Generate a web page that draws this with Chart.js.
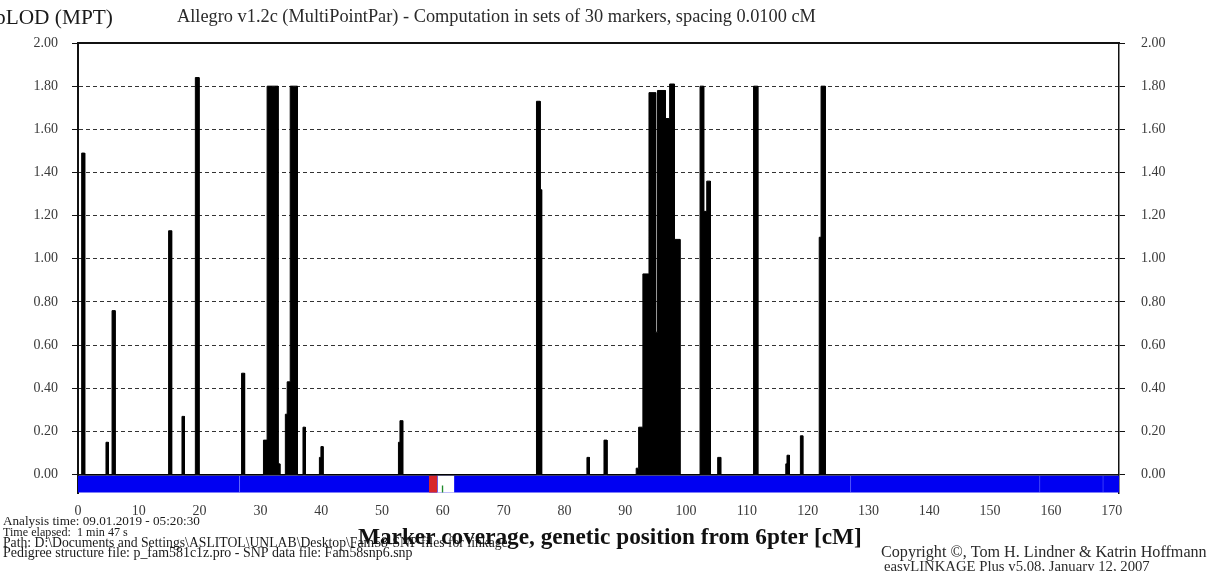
<!DOCTYPE html>
<html>
<head>
<meta charset="utf-8">
<title>pLOD (MPT)</title>
<script src="https://cdn.jsdelivr.net/npm/chart.js@4.4.0/dist/chart.umd.min.js"></script>
<style>
  html, body { margin: 0; padding: 0; background: #fff; }
</style>
</head>
<body>
<canvas id="lodChart" width="1210" height="571"></canvas>
<script>
// LOD profile plateaus: start cM, end cM, LOD
const peakStart = [0.6, 4.6, 5.6, 14.9, 17.1, 19.3, 26.9, 30.5, 31.1, 32.9, 34.1, 34.4, 34.9, 37.0, 39.7, 39.95,
    52.7, 52.95, 75.4, 76.0, 83.7, 86.5, 91.8, 92.2, 92.9, 93.9, 95.0, 95.3, 96.6, 97.3, 98.1,
    102.3, 102.9, 103.4, 105.2, 111.1, 116.4, 116.6, 118.8, 121.9, 122.2];
const peakEnd = [1.1, 5.0, 6.1, 15.4, 17.5, 19.9, 27.4, 31.1, 32.9, 33.2, 34.4, 34.9, 36.1, 37.4, 39.95, 40.3,
    52.95, 53.4, 76.0, 76.25, 84.1, 87.0, 92.2, 92.9, 93.9, 95.0, 95.3, 96.6, 97.3, 98.1, 99.0,
    102.9, 103.4, 104.0, 105.7, 111.8, 116.6, 117.0, 119.2, 122.2, 122.9];
const peakLod = [1.49, 0.15, 0.76, 1.13, 0.27, 1.84, 0.47, 0.16, 1.80, 0.05, 0.28, 0.43, 1.80, 0.22, 0.08, 0.13,
    0.15, 0.25, 1.73, 1.32, 0.08, 0.16, 0.03, 0.22, 0.93, 1.77, 0.66, 1.78, 1.65, 1.81, 1.09,
    1.80, 1.22, 1.36, 0.08, 1.80, 0.05, 0.09, 0.18, 1.10, 1.80];

// marker coverage strip below the axis
const coverFrom = [0, 57.7, 59.1, 59.8, 26.5, 127.0, 158.1, 168.5];
const coverTo = [172.0, 59.1, 61.9, 60.1, 26.65, 127.15, 158.25, 168.65];
const coverKind = ['typed', 'flagged', 'gap', 'marker', 'seam', 'seam', 'seam', 'seam'];

const yTicks = [0, 0.2, 0.4, 0.6, 0.8, 1.0, 1.2, 1.4, 1.6, 1.8, 2.0];
const xTicks = [0, 10, 20, 30, 40, 50, 60, 70, 80, 90, 100, 110, 120, 130, 140, 150, 160, 170];

const titleText = 'Allegro v1.2c (MultiPointPar) - Computation in sets of 30 markers, spacing 0.0100 cM';
const yAxisText = 'pLOD (MPT)';
const xAxisText = 'Marker coverage, genetic position from 6pter [cM]';
const infoLines = [
    'Analysis time: 09.01.2019 - 05:20:30',
    'Time elapsed:  1 min 47 s',
    'Path: D:\\Documents and Settings\\ASLITOL\\UNLAB\\Desktop\\Fam58-SNP files for linkage',
    'Pedigree structure file: p_fam581c1z.pro - SNP data file: Fam58snp6.snp'
];
const creditLines = [
    'Copyright \u00a9, Tom H. Lindner & Katrin Hoffmann',
    'easyLINKAGE Plus v5.08, January 12, 2007'
];

const Y_MIN = -0.085;
const BAND_TOP = -0.004;
const BAND_BOTTOM = -0.083;
const SERIF = '"Liberation Serif", "DejaVu Serif", serif';

const kindColor = {
    typed: '#0000f2',
    flagged: '#d8262a',
    gap: '#ffffff',
    marker: '#1f8a2a',
    seam: '#8088ff'
};

// build a stepped outline from the plateaus
function buildProfile() {
    const pts = [];
    let lastEnd = null;
    peakStart.forEach((s, i) => {
        const e = peakEnd[i];
        const v = peakLod[i];
        if (lastEnd === null || s - lastEnd > 1e-6) {
            if (lastEnd !== null) pts.push({ x: lastEnd, y: 0 });
            pts.push({ x: s, y: 0 });
        }
        pts.push({ x: s, y: v }, { x: e, y: v });
        lastEnd = e;
    });
    pts.push({ x: lastEnd, y: 0 });
    return pts;
}

// strip pieces; the full blue run sits underneath the rest
const coverSets = coverFrom.map((from, i) => {
    const kind = coverKind[i];
    return {
        data: [{ x: from, y: BAND_BOTTOM }, { x: coverTo[i], y: BAND_BOTTOM }],
        fill: { value: kind === 'marker' ? -0.05 : BAND_TOP },
        backgroundColor: kindColor[kind],
        borderWidth: 0,
        pointRadius: 0,
        clip: false,
        order: kind === 'typed' ? 10 : (kind === 'marker' ? 5 : 8)
    };
});

// draws one line of text scaled to a given width
function fitText(ctx, text, x, y, width, weight, size) {
    ctx.font = `${weight} ${size}px ${SERIF}`;
    const w = ctx.measureText(text).width;
    ctx.font = `${weight} ${(size * width / w).toFixed(2)}px ${SERIF}`;
    ctx.fillText(text, x, y);
}

const pageText = {
    id: 'pageText',
    afterDraw(chart) {
        const ctx = chart.ctx;
        ctx.save();
        ctx.textBaseline = 'middle';
        ctx.textAlign = 'left';
        ctx.fillStyle = '#1a1a1a';
        fitText(ctx, yAxisText, -5, 18, 118, 'normal', 15);
        ctx.fillStyle = '#2a2a2a';
        fitText(ctx, titleText, 177, 17, 639, 'normal', 13);

        ctx.fillStyle = '#1a1a1a';
        fitText(ctx, infoLines[0], 3, 522, 197, 'normal', 11);
        fitText(ctx, infoLines[1], 3, 533, 125, 'normal', 11);
        fitText(ctx, infoLines[2], 3, 543, 505, 'normal', 10);
        fitText(ctx, infoLines[3], 3, 553, 410, 'normal', 10);

        ctx.fillStyle = '#111';
        fitText(ctx, xAxisText, 358, 538, 504, 'bold', 20);

        ctx.fillStyle = '#2a2a2a';
        fitText(ctx, creditLines[0], 881, 553, 326, 'normal', 12);
        fitText(ctx, creditLines[1], 884, 567, 266, 'normal', 12);
        ctx.restore();
    }
};

const yTickLabels = {
    color: '#3a3a3a',
    font: { family: SERIF, size: 14 },
    callback: v => Number(v).toFixed(2)
};

new Chart(document.getElementById('lodChart'), {
    type: 'line',
    data: {
        datasets: [
            ...coverSets,
            {
                data: [{ x: 0, y: 0 }, { x: 171.2, y: 0 }],
                borderColor: '#111',
                borderWidth: 1.5,
                pointRadius: 0,
                fill: false,
                order: 1
            },
            {
                data: buildProfile(),
                borderColor: '#000',
                backgroundColor: '#000',
                borderWidth: 1,
                pointRadius: 0,
                tension: 0,
                fill: 'origin',
                order: 0
            }
        ]
    },
    options: {
        responsive: false,
        animation: false,
        layout: { padding: { top: 43, left: 0, right: 0, bottom: 0 } },
        plugins: {
            legend: { display: false },
            tooltip: { enabled: false },
            title: { display: false }
        },
        scales: {
            x: {
                type: 'linear',
                min: 0,
                max: 171.2,
                afterBuildTicks: axis => { axis.ticks = xTicks.map(v => ({ value: v })); },
                afterFit: axis => { axis.height = 78; },
                grid: { display: false },
                border: { display: false },
                ticks: {
                    color: '#3a3a3a',
                    font: { family: SERIF, size: 14 },
                    padding: 2,
                    maxRotation: 0
                }
            },
            xTop: {
                type: 'linear',
                position: 'top',
                min: 0,
                max: 171.2,
                afterFit: axis => { axis.height = 0; },
                grid: { display: false },
                ticks: { display: false },
                border: { display: true, color: '#111', width: 2 }
            },
            y: {
                min: Y_MIN,
                max: 2.0,
                afterBuildTicks: axis => { axis.ticks = yTicks.map(v => ({ value: v })); },
                afterFit: axis => { axis.width = 78; },
                grid: {
                    color: c => (c.tick && (c.tick.value === 0 || c.tick.value === 2)) ? 'rgba(0,0,0,0)' : '#333',
                    lineWidth: 1,
                    tickColor: '#111',
                    tickLength: 6
                },
                border: { display: true, color: '#111', width: 2, dash: [4, 3] },
                ticks: { ...yTickLabels, padding: 14 }
            },
            y2: {
                position: 'right',
                min: Y_MIN,
                max: 2.0,
                afterBuildTicks: axis => { axis.ticks = yTicks.map(v => ({ value: v })); },
                afterFit: axis => { axis.width = 91; },
                grid: { drawOnChartArea: false, tickColor: '#111', tickLength: 6 },
                border: { display: true, color: '#111', width: 1.5 },
                ticks: { ...yTickLabels, padding: 16 }
            }
        }
    },
    plugins: [pageText]
});
</script>
</body>
</html>
